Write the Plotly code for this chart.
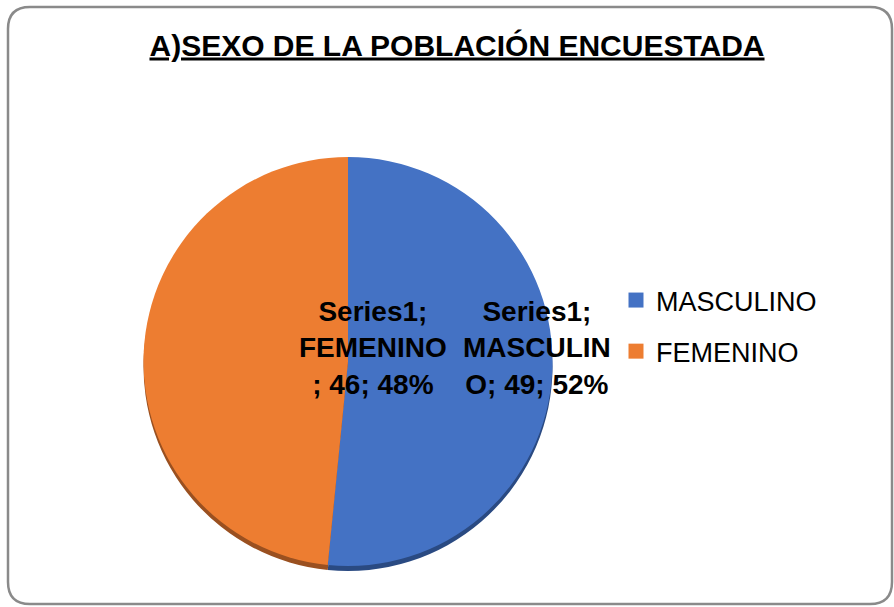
import plotly.graph_objects as go

# data
labels = ["MASCULINO", "FEMENINO"]
values = [49, 46]
percents = ["52%", "48%"]
series_name = "Series1"
title_text = "A)SEXO DE LA POBLACIÓN ENCUESTADA"

colors = ["#4472C4", "#ED7D31"]
rim_colors = ["#2A4A82", "#9A5020"]

W, H = 894, 607
FONT = "Liberation Sans, Arial"


def px_x(x):
    return x / W


def px_y(y):
    return 1 - y / H


# pie placement (pixels)
left, right, top, bottom = 138, 558, 157, 566
dom_x = [px_x(left), px_x(right)]
dom_y = [px_y(bottom), px_y(top)]
shift = 5 / H

fig = go.Figure()

# dark rim underneath to fake the 3D edge
fig.add_trace(go.Pie(
    labels=labels, values=values, sort=False, direction="clockwise",
    rotation=0, marker=dict(colors=rim_colors, line=dict(width=0)),
    textinfo="none", hoverinfo="skip", showlegend=False,
    domain=dict(x=dom_x, y=[dom_y[0] - shift, dom_y[1] - shift])))

fig.add_trace(go.Pie(
    labels=labels, values=values, sort=False, direction="clockwise",
    rotation=0, marker=dict(colors=colors, line=dict(width=0)),
    textinfo="none", hoverinfo="label+value+percent", showlegend=False,
    domain=dict(x=dom_x, y=dom_y)))

# legend entries (separate groups so the gap between rows can be set)
for lab, col in zip(labels, colors):
    fig.add_trace(go.Scatter(
        x=[None], y=[None], mode="markers", name=lab, legendgroup=lab,
        marker=dict(symbol="square", size=15, color=col)))

# data labels, Excel style wrapping
label_texts = [
    f"{series_name};<br>MASCULIN<br>O; {values[0]}; {percents[0]}",
    f"{series_name};<br>FEMENINO<br>; {values[1]}; {percents[1]}",
]
label_pos = [(537, 348), (297, 348)]
for txt, (lx, ly) in zip(label_texts, label_pos):
    fig.add_annotation(
        x=px_x(lx), y=px_y(ly), xref="paper", yref="paper",
        text=f"<b>{txt}</b>", showarrow=False, align="center",
        font=dict(family=FONT, size=28, color="#000000"))

# rounded chart border
bl, bt, br, bb, r = 8, 7, 892, 604, 22
rx, ry = r / W, r / H
x0, x1, y0, y1 = px_x(bl), px_x(br), px_y(bb), px_y(bt)
path = (
    f"M {x0 + rx},{y1} L {x1 - rx},{y1} Q {x1},{y1} {x1},{y1 - ry} "
    f"L {x1},{y0 + ry} Q {x1},{y0} {x1 - rx},{y0} "
    f"L {x0 + rx},{y0} Q {x0},{y0} {x0},{y0 + ry} "
    f"L {x0},{y1 - ry} Q {x0},{y1} {x0 + rx},{y1} Z"
)
fig.add_shape(type="path", path=path, xref="paper", yref="paper",
              line=dict(color="#8a8a8a", width=2.5))

fig.update_xaxes(visible=False)
fig.update_yaxes(visible=False)
fig.update_layout(
    width=W, height=H,
    margin=dict(l=0, r=0, t=0, b=0),
    paper_bgcolor="white", plot_bgcolor="rgba(0,0,0,0)",
    title=dict(text=f"<u><b>{title_text}</b></u>",
               x=px_x(457), y=px_y(45), xanchor="center", yanchor="middle",
               font=dict(family=FONT, size=30, color="#000000")),
    legend=dict(x=px_x(616), y=px_y(326), xanchor="left", yanchor="middle",
                font=dict(family=FONT, size=27, color="#000000"),
                tracegroupgap=13, bgcolor="rgba(0,0,0,0)"),
)

fig.write_html("out.html", config={"displayModeBar": False},
               post_script="document.body.style.margin='0';")
